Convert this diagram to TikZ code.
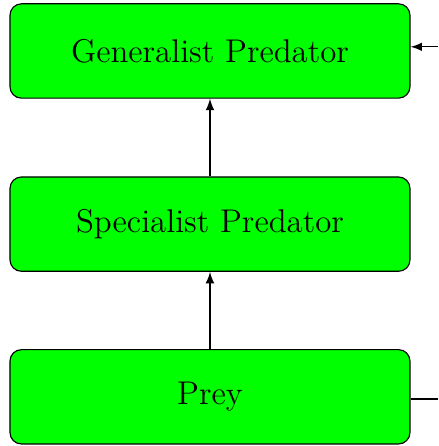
\documentclass[tikz,border=0pt]{standalone}
\usepackage{tikz}

\begin{document}
\begin{tikzpicture}[>=latex]
	\tikzstyle{level}=[draw=black,fill=green,rounded corners=4pt,minimum width=4.92cm,minimum height=1.16cm,font=\fontsize{11.5}{13}\selectfont]
	\useasboundingbox (0,0) rectangle (5.388,5.486);
	\node[level](gen) at (2.583,4.859) {Generalist Predator};
	\node[level](spec) at (2.583,2.729) {Specialist Predator};
	\node[level](prey) at (2.583,0.605) {Prey};
	\coordinate (genin) at (5.388,4.91);
	\coordinate (preyout) at (5.388,0.578);
	\draw[->](spec) -- (gen);
	\draw[->](prey) -- (spec);
	\draw[->](genin) -- (genin -| gen.east);
	\draw(prey.east |- preyout) -- (preyout);
\end{tikzpicture}
\end{document}
